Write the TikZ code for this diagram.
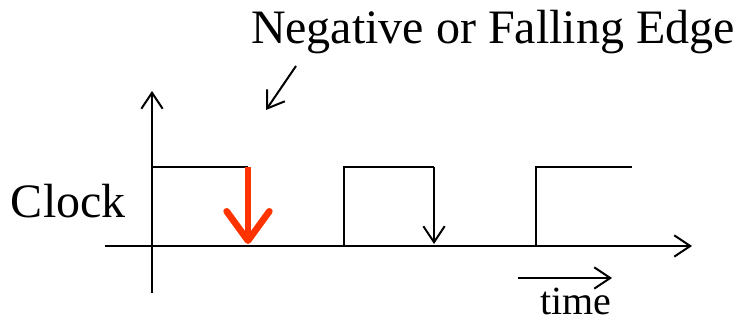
\documentclass[tikz,border=0pt]{standalone}
\usepackage{fontspec}
\setmainfont{Liberation Serif}
\usetikzlibrary{arrows.meta}

\begin{document}
\begin{tikzpicture}[x=0.75pt,y=-0.75pt,line width=1.5pt,
    barb/.style={-{Straight Barb[length=12pt,width=16pt,line width=1.5pt]}},
    redbarb/.style={line width=5pt,-{Straight Barb[length=22pt,width=32pt,line width=5pt,round]}},
    bigtext/.style={inner sep=0pt,font=\fontsize{36}{40}\selectfont},
    smalltext/.style={inner sep=0pt,font=\fontsize{30}{34}\selectfont}]
  \definecolor{edgered}{RGB}{255,51,0}
  \useasboundingbox (0,0) rectangle (738,323);
  % Axes
  \coordinate (yb) at (152,293);
  \coordinate (yt) at (152,91);
  \coordinate (xl) at (105,246);
  \coordinate (xr) at (692,246);
  \draw[barb] (yb) -- (yt);
  \draw[barb] (xl) -- (xr);
  % Clock waveform: high level at y=167
  \coordinate (h1) at (152,167);
  \coordinate (f1) at (248,167);
  \coordinate (l1) at (248,244);
  \coordinate (r2) at (344,246);
  \coordinate (h2) at (344,167);
  \coordinate (f2) at (434,167);
  \coordinate (l2) at (434,244);
  \coordinate (r3) at (536,246);
  \coordinate (h3) at (536,167);
  \coordinate (e3) at (632,167);
  \draw (h1) -- (f1);
  \draw (r2) -- (h2) -- (f2);
  \draw (r3) -- (h3) -- (e3);
  % Falling edges
  \draw[redbarb,edgered] (f1) -- (l1);
  \draw[barb] (f2) -- (l2);
  % Labels
  \node[bigtext,anchor=base west] (clk) at (10,218) {Clock};
  \node[bigtext,anchor=base west] (neg) at (250,44) {Negative or Falling Edge};
  \coordinate (pa) at (296,66);
  \coordinate (pb) at (266,110);
  \draw[barb] (pa) -- (pb);
  % Time direction
  \coordinate (ta) at (518,278);
  \coordinate (tb) at (612,278);
  \draw[barb] (ta) -- (tb);
  \node[smalltext,anchor=base] (time) at (576,315) {time};
\end{tikzpicture}
\end{document}
